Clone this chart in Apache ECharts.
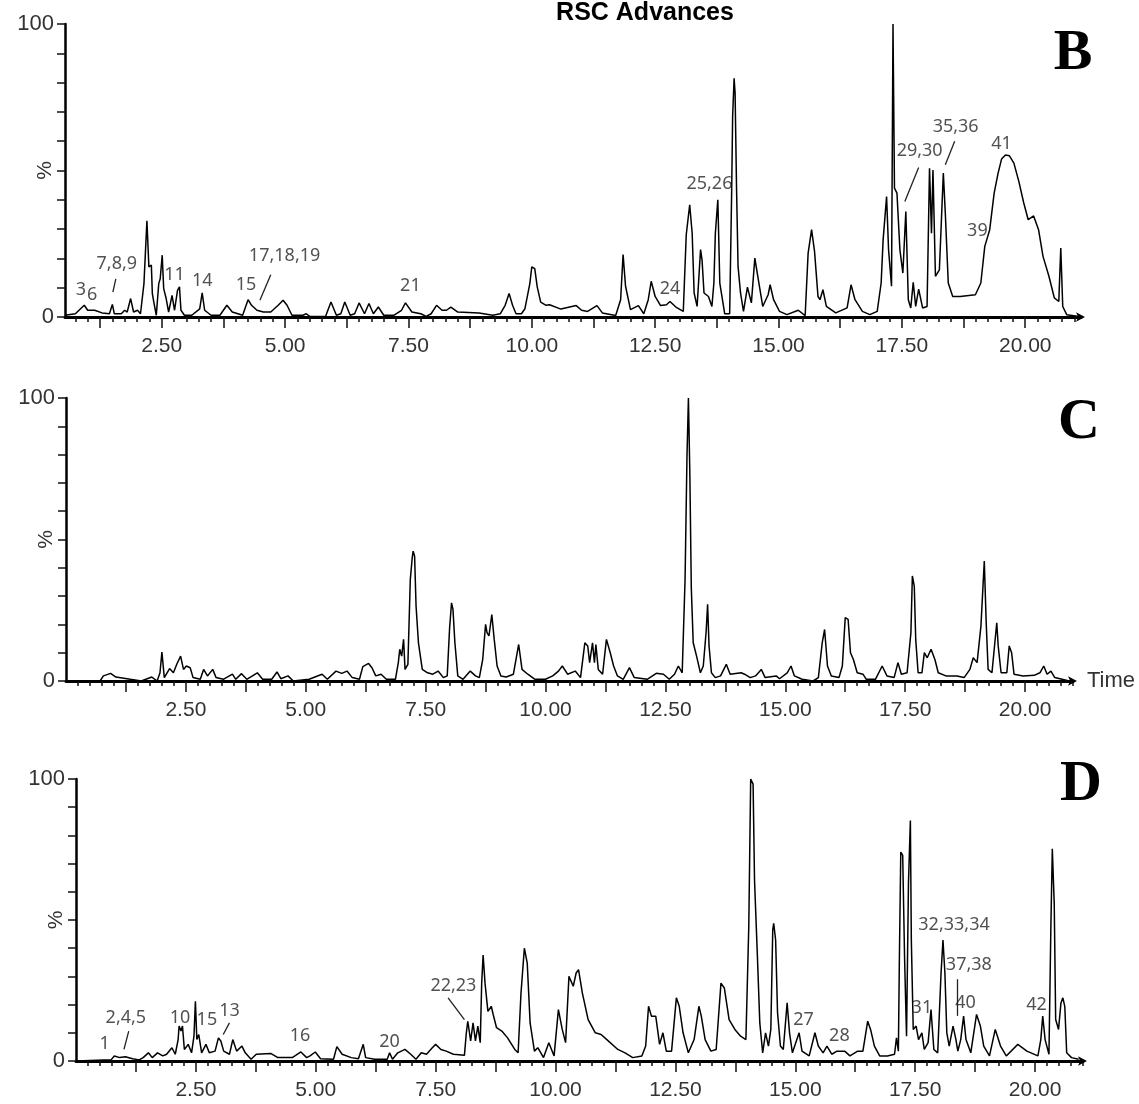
<!DOCTYPE html>
<html>
<head>
<meta charset="utf-8">
<script src="https://cdn.jsdelivr.net/npm/echarts@6/dist/echarts.min.js"></script>
<style>
html,body{margin:0;padding:0;background:#fff;}
#chart{width:1139px;height:1104px;}
</style>
</head>
<body>
<div id="chart"></div>
<script>
// ---------- DATA ----------
// Panel B: retention time (min) and relative intensity (%)
const bTime = [0.54,0.75,0.93,1.0,1.14,1.29,1.44,1.5,1.54,1.68,1.75,1.8,1.87,1.93,2.01,2.07,2.14,2.17,2.2,2.24,2.29,2.31,2.34,2.39,2.44,2.47,2.51,2.54,2.59,2.64,2.71,2.76,2.82,2.86,2.89,2.96,3.11,3.27,3.32,3.37,3.5,3.68,3.82,3.93,4.14,4.25,4.32,4.43,4.56,4.71,4.86,4.96,5.04,5.14,5.36,5.43,5.5,5.82,5.93,6.04,6.13,6.21,6.32,6.41,6.5,6.61,6.7,6.79,6.89,7.0,7.21,7.36,7.44,7.57,7.75,7.86,7.96,8.07,8.18,8.27,8.36,8.5,8.93,9.21,9.36,9.46,9.54,9.61,9.68,9.79,9.86,9.96,10.0,10.06,10.11,10.18,10.29,10.36,10.59,10.9,11.01,11.13,11.32,11.43,11.7,11.8,11.85,11.9,12.0,12.16,12.27,12.36,12.42,12.5,12.61,12.73,12.8,12.92,13.07,13.13,13.2,13.25,13.29,13.35,13.42,13.45,13.49,13.58,13.65,13.69,13.72,13.77,13.81,13.91,14.01,14.05,14.07,14.1,14.12,14.15,14.18,14.23,14.29,14.37,14.45,14.52,14.58,14.68,14.79,14.83,14.9,15.02,15.17,15.4,15.54,15.6,15.67,15.73,15.8,15.84,15.9,15.97,16.16,16.39,16.47,16.55,16.7,16.85,17.0,17.08,17.12,17.19,17.23,17.29,17.32,17.35,17.4,17.46,17.52,17.58,17.63,17.68,17.73,17.78,17.84,17.92,18.01,18.06,18.1,18.13,18.18,18.26,18.34,18.38,18.44,18.53,18.68,18.99,19.1,19.18,19.28,19.37,19.45,19.52,19.6,19.68,19.77,19.87,19.97,20.06,20.17,20.27,20.36,20.48,20.59,20.68,20.72,20.76,20.84,21.09];
const bPct = [0.6,1.1,4.0,2.3,2.3,1.4,1.1,4.3,1.1,1.1,2.3,1.7,6.3,1.7,2.3,1.1,11.4,10.8,32.8,17.1,17.7,8.0,5.1,0.6,11.4,13.1,21.1,9.7,6.3,1.7,7.4,2.3,9.1,10.3,2.3,0.6,0.6,2.8,8.2,2.3,0.6,0.6,4.0,1.7,0.6,5.9,4.0,2.3,1.7,1.7,4.0,5.7,4.0,0.6,0.6,1.1,0.2,0.2,5.1,0.6,1.1,5.1,0.6,1.1,4.8,1.1,4.6,1.1,3.4,0.6,0.6,2.3,4.8,1.7,1.1,0.2,1.1,4.0,2.3,2.3,3.4,1.7,1.4,0.6,1.1,4.0,8.0,4.0,1.1,1.1,2.8,11.4,17.1,16.5,10.3,5.1,4.0,4.2,2.7,3.9,2.3,1.9,3.9,1.4,0.5,5.9,21.3,10.5,2.5,3.9,1.1,5.9,12.2,7.0,3.9,4.2,5.3,3.4,1.9,28.1,38.3,28.6,8.2,3.6,23.0,19.5,8.2,7.0,3.6,11.6,28.6,40.0,11.6,1.1,1.1,42.3,68.4,81.5,76.4,43.4,17.3,8.2,1.9,10.2,4.8,20.1,13.9,3.6,7.6,11.0,5.9,1.9,0.8,2.3,0.5,21.8,29.8,22.4,7.0,5.9,9.3,3.6,1.4,3.1,11.0,5.9,1.9,0.8,1.9,11.6,26.4,41.1,23.0,10.5,100,44.0,42.3,23.0,15.0,36.0,5.9,3.1,11.8,3.6,9.5,3.1,3.6,50.8,28.6,50.2,13.9,16.1,49.1,35.5,11.6,7.0,7.0,7.6,11.6,24.1,29.8,42.3,49.1,53.9,55.3,55.0,52.5,46.3,38.9,33.2,34.5,29.8,20.7,13.9,6.5,5.3,23.5,3.6,0.8,0.2];

// Panel C
const cTime = [0,0.71,0.78,0.93,1.04,1.34,1.57,1.79,1.9,1.96,2.0,2.05,2.16,2.24,2.31,2.39,2.45,2.51,2.59,2.65,2.8,2.87,2.95,3.06,3.13,3.28,3.47,3.54,3.66,3.77,3.99,4.1,4.29,4.4,4.48,4.63,4.74,5.07,5.34,5.45,5.63,5.75,5.86,5.97,6.12,6.19,6.31,6.38,6.46,6.57,6.68,6.87,6.93,6.96,7.0,7.04,7.07,7.13,7.18,7.22,7.24,7.27,7.3,7.35,7.43,7.54,7.65,7.76,7.87,7.95,8.0,8.04,8.07,8.11,8.17,8.28,8.43,8.54,8.62,8.69,8.75,8.78,8.82,8.88,8.93,8.99,9.07,9.18,9.33,9.44,9.51,9.63,9.78,10.0,10.15,10.27,10.35,10.46,10.62,10.73,10.82,10.88,10.92,10.98,11.02,11.05,11.1,11.19,11.27,11.35,11.42,11.5,11.62,11.75,11.85,12.12,12.31,12.46,12.58,12.69,12.77,12.85,12.91,12.95,12.98,13.01,13.04,13.08,13.15,13.23,13.29,13.35,13.38,13.41,13.46,13.54,13.65,13.77,13.85,14.08,14.15,14.27,14.38,14.5,14.58,14.81,14.88,15.04,15.12,15.19,15.35,15.58,15.69,15.77,15.82,15.88,15.96,16.12,16.19,16.25,16.31,16.36,16.42,16.5,16.62,16.69,16.88,17.02,17.12,17.27,17.35,17.42,17.54,17.62,17.65,17.69,17.72,17.77,17.85,17.9,17.96,18.04,18.12,18.19,18.35,18.58,18.73,18.85,18.92,19.0,19.08,19.15,19.19,19.23,19.31,19.37,19.41,19.44,19.5,19.62,19.67,19.72,19.77,19.96,20.19,20.31,20.39,20.46,20.54,20.62,20.77,20.92];
const cPct = [0,0,1.8,2.7,1.4,0.6,0,1.4,0,2.9,10.2,1.2,4.4,2.9,5.9,8.8,4.1,5.3,4.7,1.2,0.6,4.1,1.8,4.1,1.2,0.6,2.4,0.6,2.6,0.6,2.9,0.6,0.6,3.2,0.8,1.8,0,0.6,2.4,0.6,3.5,2.7,3.5,1.2,0.6,5.1,6.2,4.7,1.8,2.4,0.6,0.6,6.5,11.2,8.8,14.7,4.1,5.9,35.9,43.5,45.9,44.1,26.5,13.5,4.1,2.9,2.4,3.5,1.2,1.8,18.8,27.6,25.3,13.5,1.8,0.6,3.5,1.8,1.2,7.6,20.0,17.1,15.9,23.5,14.7,5.3,1.8,1.4,2.4,12.9,4.1,2.4,0.6,0.6,1.8,3.5,5.3,2.4,3.5,1.2,13.5,12.4,6.5,13.5,6.5,12.9,4.1,2.4,14.7,10.0,5.3,1.8,0.6,4.7,1.2,0.6,2.7,2.4,0.6,2.4,5.3,2.9,35.9,79.4,100,72.9,32.9,13.5,8.8,2.9,5.3,17.6,27.1,12.4,2.9,1.2,1.8,5.9,2.4,2.9,2.4,1.2,1.8,4.1,1.2,1.8,0.8,2.9,5.3,1.8,0.6,0,1.2,13.5,18.2,5.3,1.8,1.2,5.3,22.4,21.8,10.0,7.6,2.9,2.4,0.6,0.6,5.3,1.8,1.2,6.5,2.4,2.9,17.1,37.1,33.5,14.7,2.9,2.9,10.0,8.2,11.2,7.6,2.9,1.8,1.8,1.2,4.1,8.2,6.5,19.4,42.4,20.6,4.1,2.9,13.5,20.6,12.4,2.9,2.9,12.4,10.0,2.4,1.8,2.0,2.9,5.3,2.4,3.5,1.2,0.6,0];

// Panel D
const dTime = [0,0.73,0.8,0.91,1.03,1.18,1.32,1.4,1.51,1.59,1.7,1.81,1.89,2.0,2.07,2.13,2.15,2.19,2.22,2.26,2.34,2.41,2.46,2.49,2.52,2.56,2.62,2.71,2.78,2.9,2.97,3.02,3.08,3.2,3.27,3.35,3.46,3.53,3.65,3.76,4.06,4.21,4.51,4.69,4.81,4.88,4.99,5.1,5.37,5.44,5.55,5.74,5.89,5.99,6.04,6.23,6.49,6.54,6.6,6.71,6.86,6.98,7.09,7.2,7.31,7.43,7.5,7.61,7.72,7.87,8.1,8.14,8.17,8.23,8.28,8.33,8.38,8.43,8.46,8.49,8.53,8.59,8.66,8.7,8.77,8.88,9.0,9.15,9.22,9.28,9.35,9.41,9.47,9.56,9.63,9.75,9.86,9.97,10.06,10.14,10.21,10.28,10.37,10.43,10.48,10.56,10.68,10.83,10.95,11.07,11.3,11.45,11.61,11.8,11.88,11.94,12.0,12.09,12.17,12.24,12.31,12.42,12.52,12.58,12.66,12.77,12.89,12.99,13.04,13.12,13.24,13.35,13.45,13.52,13.62,13.74,13.86,13.97,14.03,14.07,14.12,14.15,14.21,14.26,14.32,14.38,14.44,14.49,14.53,14.55,14.59,14.63,14.69,14.75,14.83,14.88,14.94,15.08,15.14,15.29,15.41,15.48,15.58,15.66,15.76,15.87,16.03,16.14,16.3,16.41,16.51,16.57,16.65,16.76,16.92,17.07,17.11,17.15,17.17,17.2,17.24,17.28,17.32,17.36,17.4,17.42,17.46,17.52,17.57,17.64,17.69,17.77,17.83,17.89,17.97,18.04,18.08,18.12,18.16,18.21,18.29,18.35,18.39,18.45,18.51,18.56,18.66,18.78,18.86,18.93,19.05,19.17,19.28,19.4,19.64,19.83,20.06,20.12,20.16,20.21,20.29,20.33,20.36,20.4,20.43,20.49,20.54,20.58,20.62,20.66,20.76,20.91];
const dPct = [0,0.4,1.8,1.2,1.5,0.8,0.4,1.2,2.9,1.2,2.9,1.8,2.4,4.7,2.4,7.6,12.4,10.6,12.4,4.1,5.9,2.9,8.8,21.2,7.6,9.4,2.9,5.9,2.9,3.5,8.2,7.1,3.5,2.4,7.6,3.5,5.3,2.9,0.6,2.4,2.7,1.2,1.2,3.2,1.2,1.8,3.2,0.8,0.6,5.1,2.4,1.2,0.8,5.9,1.2,0.6,0.6,2.9,0.6,2.9,4.1,2.4,0.6,2.9,2.4,4.7,5.9,4.1,3.5,2.4,2.0,10.0,14.1,7.1,13.5,7.1,12.4,6.5,27.6,37.6,27.6,17.6,19.4,16.5,11.8,10.6,8.2,4.1,2.9,24.1,40.0,34.7,13.5,3.5,4.7,1.2,6.5,1.8,18.2,11.2,6.5,30.0,26.5,31.2,32.4,24.1,14.7,10.0,9.4,7.6,4.1,2.9,1.2,1.8,5.3,19.4,15.9,15.9,5.9,10.0,3.5,3.5,22.4,19.4,10.0,2.9,7.6,19.4,15.9,7.6,3.5,4.1,27.6,25.9,14.7,11.2,8.8,7.6,47.6,100,98.2,64.1,37.1,13.5,2.9,10.0,5.3,11.2,46.5,48.8,42.9,17.1,5.3,4.1,20.6,10.0,2.9,10.0,3.5,1.8,10.0,5.3,2.9,5.3,2.4,3.5,3.5,1.8,3.5,3.5,14.1,11.2,5.3,1.8,1.8,2.4,8.2,3.5,35.3,74.1,72.9,35.9,8.8,62.9,85.3,42.9,11.2,12.4,7.6,10.0,4.1,6.5,18.2,4.1,2.9,31.2,42.9,31.2,10.0,5.3,12.4,7.6,3.5,7.6,15.9,7.6,2.9,16.5,12.4,5.3,1.8,11.2,5.3,1.8,5.9,3.5,1.8,7.6,15.9,7.6,2.4,47.6,75.3,55.9,14.7,11.2,20.6,22.4,19.4,2.9,1.2,0.6];

// Axis tick labels (minutes) and y labels (%)
const xLabelValues = [2.5, 5, 7.5, 10, 12.5, 15, 17.5, 20];
const yLabelValues = [0, 100];

// Peak annotations: [text, time, %]
const bNotes = [['3',0.86,9.1],['6',1.09,7.6],['7,8,9',1.59,18.2],['11',2.76,14.4],['14',3.32,12.5],['15',4.21,11],['17,18,19',4.99,21],['21',7.54,10.6],['24',12.8,9.7],['25,26',13.6,45.5],['29,30',17.86,56.8],['35,36',18.59,64.8],['39',19.03,29.5],['41',19.52,59]];
const dNotes = [['1',0.6,6.2],['2,4,5',1.04,15.3],['10',2.17,15.3],['15',2.73,14.7],['13',3.2,17.6],['16',4.67,8.8],['20',6.54,6.8],['22,23',7.87,26.5],['27',15.17,14.7],['28',15.92,8.8],['31',17.64,18.8],['32,33,34',18.31,48.2],['37,38',18.62,34],['40',18.55,20.6],['42',20.03,19.8]];
// Leader lines: [t1, %1, t2, %2]
const bLeaders = [[1.51,8.5,1.57,13],[4.49,5.7,4.71,14.4],[17.56,39.4,17.84,51],[18.38,52,18.57,60]];
const dLeaders = [[1.0,4.1,1.1,10.6],[3.07,9.4,3.2,13.5],[7.76,22.4,8.1,14.7],[18.37,16,18.37,29]];

// ---------- LAYOUT ----------
const panels = [
  {letter:'B', time:bTime, pct:bPct, notes:bNotes, leaders:bLeaders, min:0.54, max:21.13,
   grid:{left:65, top:24, width:1016, height:293}, lx:1073, ly:54, timeName:false},
  {letter:'C', time:cTime, pct:cPct, notes:[], leaders:[], min:0, max:21.0,
   grid:{left:66, top:398, width:1007, height:283}, lx:1079, ly:423, timeName:true},
  {letter:'D', time:dTime, pct:dPct, notes:dNotes, leaders:dLeaders, min:0, max:21.0,
   grid:{left:76, top:779, width:1007, height:282}, lx:1081, ly:785, timeName:false}
];

function stepValues(min, max, step) {
  const out = [];
  const start = Math.ceil((min + 1e-9) / step);
  for (let k = start; k * step <= max + 1e-9; k++) out.push(+(k * step).toFixed(4));
  return out;
}

const LABEL_FONT = "'Liberation Sans', Arial, sans-serif";
const grids = [], xAxes = [], yAxes = [], series = [], graphics = [];

panels.forEach((p, i) => {
  grids.push(Object.assign({containLabel:false}, p.grid));
  const minorTicks = stepValues(p.min, p.max, 0.25);
  const majorTicks = stepValues(p.min, p.max, 1.25);
  const labelVals = xLabelValues.filter(v => v >= p.min && v <= p.max);
  // main x axis: line, minor ticks, labels
  xAxes.push({
    type:'value', gridIndex:i, position:'bottom', min:p.min, max:p.max,
    axisLine:{show:true, lineStyle:{color:'#000', width:3}, symbol:['none','arrow'], symbolSize:[7,9], symbolOffset:[0,4]},
    axisTick:{show:true, customValues:minorTicks, length:5, lineStyle:{color:'#111', width:1.5}},
    axisLabel:{show:true, customValues:labelVals, formatter:v => v.toFixed(2), fontSize:21, color:'#333', fontFamily:LABEL_FONT, margin:19},
    splitLine:{show:false},
    name: p.timeName ? 'Time' : '', nameLocation:'end', nameGap:14,
    nameTextStyle:{fontSize:22, color:'#333', fontFamily:LABEL_FONT, verticalAlign:'middle'}
  });
  // second x axis for the longer ticks
  xAxes.push({
    type:'value', gridIndex:i, position:'bottom', min:p.min, max:p.max,
    axisLine:{show:false},
    axisTick:{show:true, customValues:majorTicks, length:11, lineStyle:{color:'#111', width:1.5}},
    axisLabel:{show:false}, splitLine:{show:false}
  });
  yAxes.push({
    type:'value', gridIndex:i, min:0, max:100, interval:10,
    axisLine:{show:true, lineStyle:{color:'#000', width:2.5}},
    axisTick:{show:true, length:8, lineStyle:{color:'#111', width:1.5}},
    axisLabel:{show:true, formatter:v => (yLabelValues.indexOf(v) >= 0 ? String(v) : ''), fontSize:22, color:'#333', fontFamily:LABEL_FONT, margin:11},
    splitLine:{show:false},
    name:'%', nameLocation:'middle', nameRotate:90, nameGap:9, nameMoveOverlap:false,
    nameTextStyle:{fontSize:21, color:'#333', fontFamily:LABEL_FONT}
  });
  series.push({
    type:'line', xAxisIndex:2*i, yAxisIndex:i, showSymbol:false, symbol:'none',
    data:p.time.map((t, k) => [t, p.pct[k]]),
    lineStyle:{color:'#000', width:1.5}, animation:false, silent:true, z:3
  });
  series.push({
    type:'scatter', xAxisIndex:2*i, yAxisIndex:i, symbolSize:0, animation:false, silent:true, z:4,
    data:p.notes.map(n => ({name:n[0], value:[n[1], n[2]]})),
    label:{show:true, position:'inside', formatter:'{b}', fontSize:18, color:'#262626', fontFamily:"'Noto Sans', 'DejaVu Sans', sans-serif"},
    markLine:{silent:true, symbol:'none', animation:false, label:{show:false},
      lineStyle:{color:'#222', width:1.3, type:'solid'},
      data:p.leaders.map(l => [{coord:[l[0], l[1]]}, {coord:[l[2], l[3]]}])}
  });
  graphics.push({type:'text', x:p.lx, y:p.ly, silent:true,
    style:{text:p.letter, font:"bold 58px 'Liberation Serif', 'Times New Roman', serif", fill:'#000', textAlign:'center', textVerticalAlign:'middle'}});
});

graphics.push({type:'text', x:645, y:13, silent:true,
  style:{text:'RSC Advances', font:"bold 25px 'Liberation Sans', Arial, sans-serif", fill:'#000', textAlign:'center', textVerticalAlign:'middle'}});

const chart = echarts.init(document.getElementById('chart'), null, {renderer:'canvas'});
chart.setOption({
  backgroundColor:'#fff', animation:false,
  grid:grids, xAxis:xAxes, yAxis:yAxes, series:series, graphic:graphics
});
</script>
</body>
</html>
